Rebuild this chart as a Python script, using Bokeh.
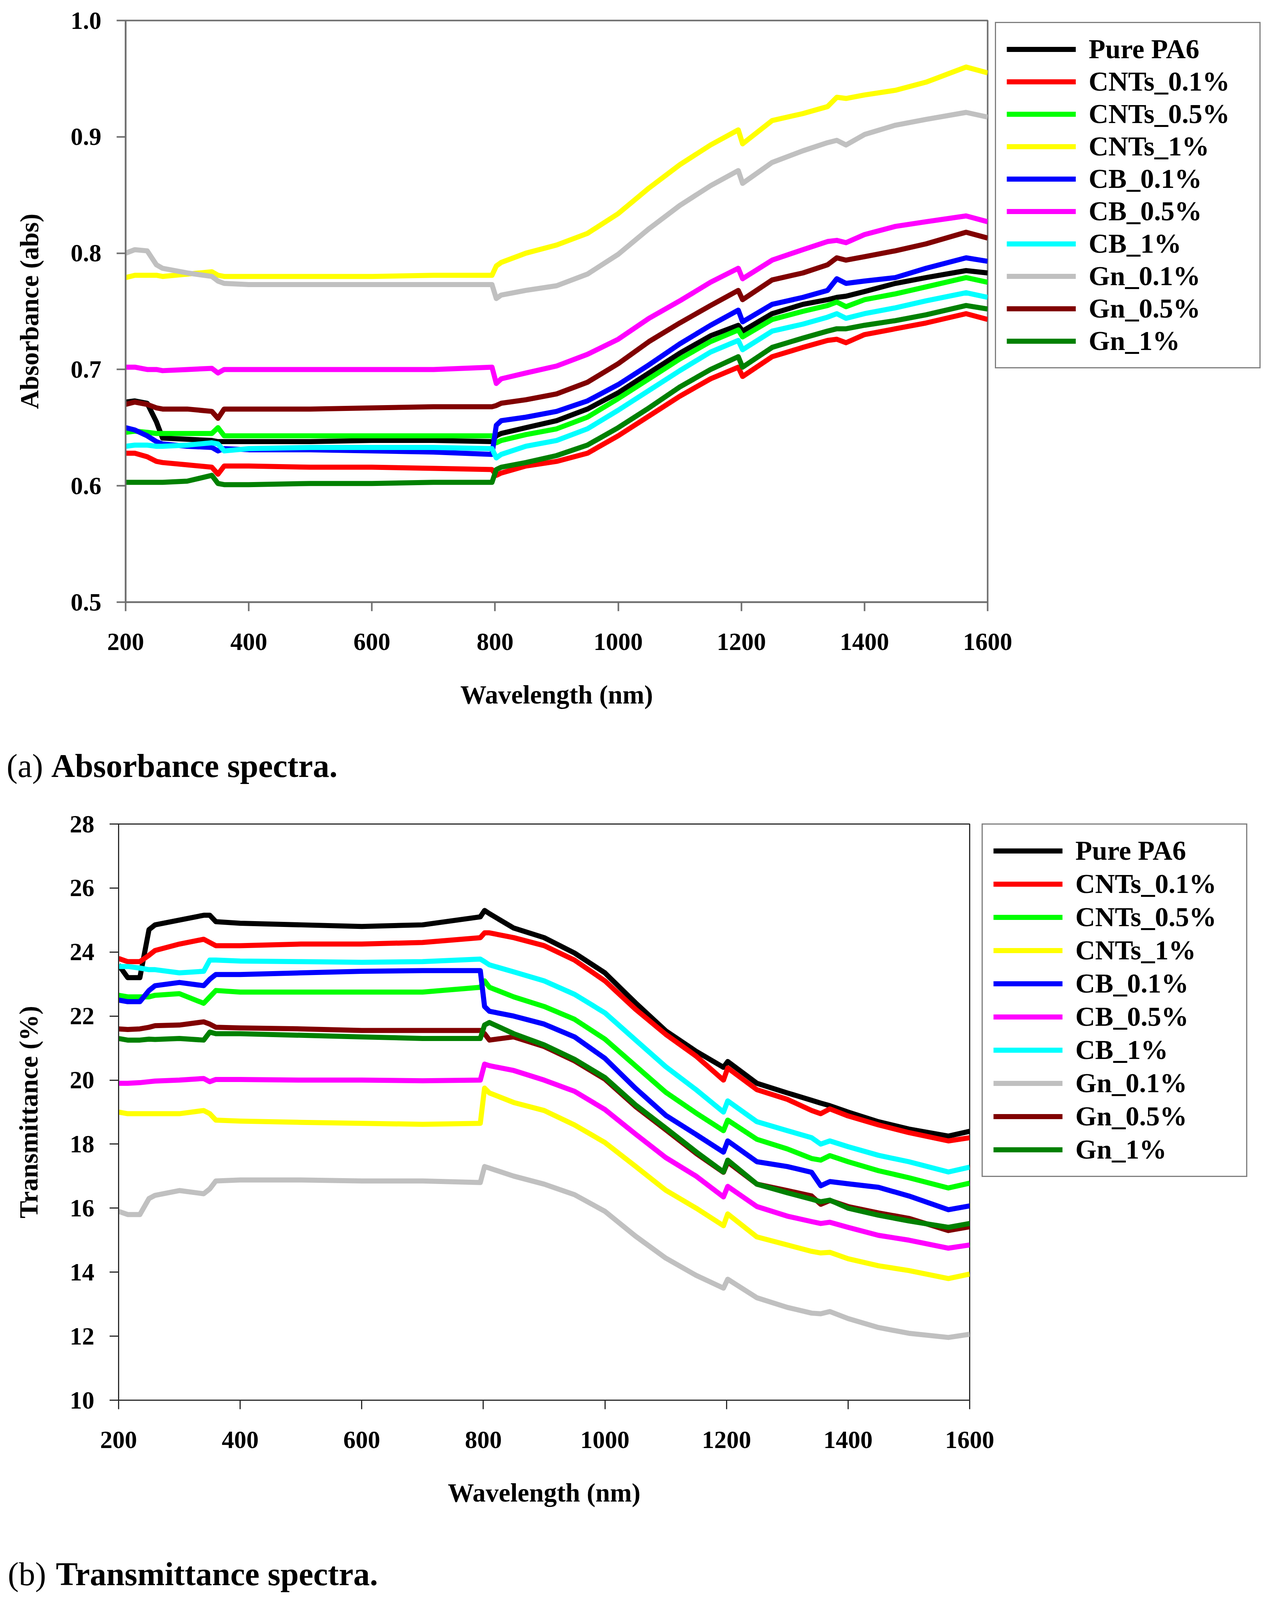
from bokeh.plotting import figure
from bokeh.models import Range1d, FixedTicker, PrintfTickFormatter, Legend, LegendItem, Div
from bokeh.layouts import column, row
from bokeh.embed import file_html
from bokeh.resources import INLINE

# ---------------- data ----------------
wavelength = [200, 215, 235, 250, 260, 300, 340, 350, 360, 400, 500, 600, 700, 795, 802, 810,
              850, 900, 950, 1000, 1050, 1100, 1150, 1195, 1202, 1250, 1300, 1340, 1355, 1370,
              1400, 1450, 1500, 1565, 1600]

series_names = ["Pure PA6", "CNTs_0.1%", "CNTs_0.5%", "CNTs_1%", "CB_0.1%", "CB_0.5%",
                "CB_1%", "Gn_0.1%", "Gn_0.5%", "Gn_1%"]
series_colors = ["#000000", "#ff0000", "#00ff00", "#ffff00", "#0000ff", "#ff00ff",
                 "#00ffff", "#c0c0c0", "#800000", "#008000"]

# (a) absorbance
abs_pure_pa6 = [0.672, 0.673, 0.671, 0.655, 0.641, 0.640, 0.639, 0.638, 0.638, 0.638, 0.638, 0.639, 0.639, 0.638, 0.643, 0.645,
                0.650, 0.656, 0.666, 0.680, 0.697, 0.714, 0.729, 0.738, 0.733, 0.748, 0.756, 0.760, 0.762, 0.763,
                0.767, 0.774, 0.779, 0.785, 0.783]
abs_cnts_01 = [0.628, 0.628, 0.625, 0.621, 0.620, 0.618, 0.616, 0.610, 0.617, 0.617, 0.616, 0.616, 0.615, 0.614, 0.609, 0.611,
               0.617, 0.621, 0.628, 0.643, 0.660, 0.677, 0.692, 0.702, 0.694, 0.711, 0.719, 0.725, 0.726, 0.723,
               0.730, 0.735, 0.740, 0.748, 0.743]
abs_cnts_05 = [0.646, 0.647, 0.646, 0.645, 0.645, 0.645, 0.645, 0.650, 0.643, 0.643, 0.643, 0.643, 0.643, 0.643, 0.637, 0.639,
               0.644, 0.649, 0.659, 0.675, 0.692, 0.709, 0.724, 0.734, 0.728, 0.743, 0.750, 0.755, 0.758, 0.754,
               0.760, 0.765, 0.771, 0.779, 0.775]
abs_cnts_1 = [0.779, 0.781, 0.781, 0.781, 0.780, 0.782, 0.784, 0.781, 0.780, 0.780, 0.780, 0.780, 0.781, 0.781, 0.789, 0.792,
              0.800, 0.807, 0.817, 0.834, 0.856, 0.876, 0.893, 0.906, 0.894, 0.914, 0.920, 0.926, 0.934, 0.933,
              0.936, 0.940, 0.947, 0.960, 0.955]
abs_cb_01 = [0.650, 0.648, 0.643, 0.638, 0.636, 0.634, 0.633, 0.630, 0.632, 0.631, 0.631, 0.630, 0.629, 0.627, 0.652, 0.656,
             0.659, 0.664, 0.673, 0.687, 0.704, 0.722, 0.738, 0.751, 0.741, 0.756, 0.762, 0.768, 0.778, 0.774,
             0.776, 0.779, 0.787, 0.796, 0.793]
abs_cb_05 = [0.702, 0.702, 0.700, 0.700, 0.699, 0.700, 0.701, 0.697, 0.700, 0.700, 0.700, 0.700, 0.700, 0.702, 0.688, 0.692,
             0.697, 0.703, 0.713, 0.726, 0.744, 0.759, 0.775, 0.787, 0.778, 0.794, 0.803, 0.810, 0.811, 0.809,
             0.816, 0.823, 0.827, 0.832, 0.827]
abs_cb_1 = [0.634, 0.635, 0.635, 0.634, 0.634, 0.635, 0.637, 0.636, 0.630, 0.632, 0.633, 0.633, 0.633, 0.632, 0.624, 0.627,
            0.634, 0.639, 0.649, 0.665, 0.682, 0.699, 0.715, 0.725, 0.717, 0.733, 0.739, 0.745, 0.748, 0.744,
            0.748, 0.753, 0.759, 0.766, 0.762]
abs_gn_01 = [0.800, 0.803, 0.802, 0.790, 0.787, 0.783, 0.780, 0.776, 0.774, 0.773, 0.773, 0.773, 0.773, 0.773, 0.761, 0.764,
             0.768, 0.772, 0.782, 0.799, 0.821, 0.841, 0.858, 0.871, 0.860, 0.878, 0.888, 0.895, 0.897, 0.893,
             0.902, 0.910, 0.915, 0.921, 0.917]
abs_gn_05 = [0.670, 0.672, 0.670, 0.667, 0.666, 0.666, 0.664, 0.658, 0.666, 0.666, 0.666, 0.667, 0.668, 0.668, 0.669, 0.671,
             0.674, 0.679, 0.689, 0.705, 0.724, 0.740, 0.755, 0.768, 0.760, 0.777, 0.783, 0.790, 0.796, 0.794,
             0.797, 0.802, 0.808, 0.818, 0.813]
abs_gn_1 = [0.603, 0.603, 0.603, 0.603, 0.603, 0.604, 0.609, 0.602, 0.601, 0.601, 0.602, 0.602, 0.603, 0.603, 0.614, 0.616,
            0.620, 0.626, 0.635, 0.650, 0.667, 0.685, 0.700, 0.711, 0.702, 0.719, 0.727, 0.733, 0.735, 0.735,
            0.738, 0.742, 0.747, 0.755, 0.752]

# (b) transmittance
tr_pure_pa6 = [23.6, 23.2, 23.2, 24.7, 24.85, 25.0, 25.15, 25.15, 24.95, 24.9, 24.85, 24.8, 24.85, 25.1, 25.3, 25.2,
               24.75, 24.45, 23.97, 23.35, 22.42, 21.54, 20.9, 20.4, 20.58, 19.9, 19.6, 19.37, 19.28, 19.2,
               19.0, 18.7, 18.47, 18.25, 18.4]
tr_cnts_01 = [23.8, 23.7, 23.7, 23.9, 24.05, 24.25, 24.4, 24.3, 24.2, 24.2, 24.25, 24.25, 24.3, 24.45, 24.6, 24.6,
              24.45, 24.2, 23.75, 23.1, 22.22, 21.43, 20.75, 20.0, 20.38, 19.7, 19.4, 19.05, 18.95, 19.1,
              18.88, 18.6, 18.36, 18.1, 18.2]
tr_cnts_05 = [22.65, 22.6, 22.6, 22.6, 22.65, 22.7, 22.4, 22.6, 22.8, 22.75, 22.75, 22.75, 22.75, 22.9, 23.1, 22.9,
              22.6, 22.3, 21.9, 21.28, 20.45, 19.62, 18.97, 18.42, 18.75, 18.15, 17.85, 17.55, 17.5, 17.64,
              17.45, 17.17, 16.95, 16.63, 16.78]
tr_cnts_1 = [19.0, 18.95, 18.95, 18.95, 18.95, 18.95, 19.05, 18.95, 18.75, 18.72, 18.68, 18.65, 18.62, 18.65, 19.75, 19.6,
             19.3, 19.05, 18.6, 18.05, 17.31, 16.56, 16.0, 15.45, 15.82, 15.1, 14.85, 14.65, 14.6, 14.62,
             14.42, 14.2, 14.05, 13.8, 13.94]
tr_cb_01 = [22.5, 22.45, 22.45, 22.8, 22.95, 23.05, 22.95, 23.15, 23.3, 23.3, 23.35, 23.4, 23.42, 23.42, 22.3, 22.15,
            22.0, 21.75, 21.35, 20.68, 19.75, 18.9, 18.3, 17.75, 18.1, 17.45, 17.3, 17.12, 16.7, 16.83,
            16.76, 16.65, 16.38, 15.95, 16.07]
tr_cb_05 = [19.9, 19.9, 19.92, 19.95, 19.97, 20.0, 20.05, 19.95, 20.02, 20.02, 20.0, 20.0, 19.98, 20.0, 20.5, 20.45,
            20.3, 20.0, 19.65, 19.08, 18.32, 17.58, 17.0, 16.35, 16.68, 16.05, 15.75, 15.58, 15.52, 15.56,
            15.4, 15.15, 15.0, 14.75, 14.85]
tr_cb_1 = [23.55, 23.55, 23.5, 23.45, 23.45, 23.35, 23.4, 23.75, 23.75, 23.72, 23.7, 23.68, 23.7, 23.78, 23.7, 23.6,
           23.38, 23.1, 22.68, 22.1, 21.26, 20.42, 19.7, 19.0, 19.35, 18.7, 18.42, 18.2, 18.0, 18.1,
           17.92, 17.65, 17.45, 17.13, 17.28]
tr_gn_01 = [15.9, 15.8, 15.8, 16.3, 16.4, 16.55, 16.45, 16.6, 16.85, 16.88, 16.88, 16.85, 16.85, 16.8, 17.3, 17.25,
            17.0, 16.75, 16.42, 15.9, 15.13, 14.44, 13.9, 13.5, 13.78, 13.2, 12.9, 12.72, 12.7, 12.77,
            12.55, 12.27, 12.09, 11.96, 12.06]
tr_gn_05 = [21.6, 21.58, 21.6, 21.65, 21.7, 21.72, 21.82, 21.75, 21.65, 21.63, 21.6, 21.55, 21.55, 21.55, 21.45, 21.25,
            21.35, 21.05, 20.6, 20.03, 19.18, 18.45, 17.71, 17.12, 17.44, 16.75, 16.55, 16.38, 16.12, 16.24,
            16.05, 15.85, 15.68, 15.3, 15.42]
tr_gn_1 = [21.3, 21.25, 21.25, 21.28, 21.27, 21.3, 21.25, 21.5, 21.45, 21.45, 21.4, 21.35, 21.3, 21.3, 21.72, 21.8,
           21.45, 21.1, 20.65, 20.08, 19.23, 18.5, 17.76, 17.13, 17.5, 16.75, 16.48, 16.28, 16.2, 16.25,
           16.0, 15.78, 15.6, 15.4, 15.52]

abs_series = [abs_pure_pa6, abs_cnts_01, abs_cnts_05, abs_cnts_1, abs_cb_01, abs_cb_05,
              abs_cb_1, abs_gn_01, abs_gn_05, abs_gn_1]
tr_series = [tr_pure_pa6, tr_cnts_01, tr_cnts_05, tr_cnts_1, tr_cb_01, tr_cb_05,
             tr_cb_1, tr_gn_01, tr_gn_05, tr_gn_1]

x_ticks = [200, 400, 600, 800, 1000, 1200, 1400, 1600]
abs_ticks = [0.5, 0.6, 0.7, 0.8, 0.9, 1.0]
tr_ticks = [10, 12, 14, 16, 18, 20, 22, 24, 26, 28]

caption_a = ["(a)", "Absorbance spectra."]
caption_b = ["(b)", "Transmittance spectra."]

SERIF = "Liberation Serif"
PAGE_W = 3240


def make_panel(ys, y_range, y_ticks, y_fmt, y_label, frame_w, frame_h, b_left, b_top,
               b_right, b_bottom, axis_color, axis_w, legend_dx, legend_dy, legend_spacing):
    p = figure(frame_width=frame_w, frame_height=frame_h,
               min_border_left=b_left, min_border_top=b_top,
               min_border_right=b_right, min_border_bottom=b_bottom,
               x_range=Range1d(200, 1600), y_range=Range1d(*y_range),
               output_backend="svg", toolbar_location=None,
               background_fill_color="white", border_fill_color="white")
    p.xgrid.grid_line_color = None
    p.ygrid.grid_line_color = None
    p.outline_line_color = axis_color
    p.outline_line_width = axis_w

    p.xaxis.ticker = FixedTicker(ticks=x_ticks)
    p.yaxis.ticker = FixedTicker(ticks=y_ticks)
    p.yaxis.formatter = PrintfTickFormatter(format=y_fmt)
    p.xaxis.formatter = PrintfTickFormatter(format="%d")
    for ax in (p.xaxis[0], p.yaxis[0]):
        ax.axis_line_color = axis_color
        ax.axis_line_width = axis_w
        ax.major_tick_line_color = axis_color
        ax.major_tick_line_width = axis_w
        ax.major_tick_out = 23
        ax.major_tick_in = 0
        ax.minor_tick_line_color = None
        ax.major_label_text_font = SERIF
        ax.major_label_text_font_style = "bold"
        ax.major_label_text_font_size = "63px"
        ax.major_label_text_color = "black"
        ax.axis_label_text_font = SERIF
        ax.axis_label_text_font_style = "bold"
        ax.axis_label_text_font_size = "67px"
        ax.axis_label_text_color = "black"
    p.xaxis.axis_label = "Wavelength (nm)"
    p.yaxis.axis_label = y_label
    p.xaxis.major_label_standoff = 57
    p.xaxis.axis_label_standoff = 74
    p.yaxis.major_label_standoff = 39
    p.yaxis.axis_label_standoff = 66

    items = []
    for name, col, vals in zip(series_names, series_colors, ys):
        r = p.line(wavelength, vals, line_color=col, line_width=13, line_join="round")
        items.append(LegendItem(label=name, renderers=[r]))

    legend = Legend(items=items, location=(legend_dx, legend_dy), orientation="vertical",
                    border_line_color="black", border_line_width=3,
                    background_fill_color="white", background_fill_alpha=1.0,
                    label_text_font=SERIF, label_text_font_style="bold",
                    label_text_font_size="70px", label_text_color="black",
                    glyph_width=177, glyph_height=78, label_height=78, label_width=410,
                    label_standoff=33, spacing=legend_spacing, padding=27, margin=0)
    p.add_layout(legend, "right")
    return p


def make_caption(parts, height, pad_top, pad_left, gap):
    html = ('<div style="margin:0;padding:%dpx 0 0 %dpx;font-family:\'Liberation Serif\',serif;'
            'font-size:84px;line-height:88px;color:#000;white-space:nowrap;">'
            '%s <b style="margin-left:%dpx;">%s</b></div>') % (pad_top, pad_left, parts[0], gap, parts[1])
    return Div(text=html, width=PAGE_W, height=height, margin=(0, 0, 0, 0))


p1 = make_panel(abs_series, (0.5, 1.0), abs_ticks, "%.1f", "Absorbance (abs)",
                frame_w=2206, frame_h=1489, b_left=321, b_top=52, b_right=713, b_bottom=320,
                axis_color="#6e6e6e", axis_w=4, legend_dx=19, legend_dy=598, legend_spacing=3)
cap1 = make_caption(caption_a, 158, 56, 17, 0)

p2 = make_panel(tr_series, (10, 28), tr_ticks, "%d", "Transmittance (%)",
                frame_w=2178, frame_h=1475, b_left=303, b_top=90, b_right=759, b_bottom=320,
                axis_color="#2a2a2a", axis_w=3, legend_dx=31, legend_dy=571, legend_spacing=5)
cap2 = make_caption(caption_b, 175, 82, 20, 4)

layout = column(row(p1), cap1, row(p2), cap2, spacing=0)

with open("out.html", "w") as f:
    f.write(file_html(layout, INLINE))
